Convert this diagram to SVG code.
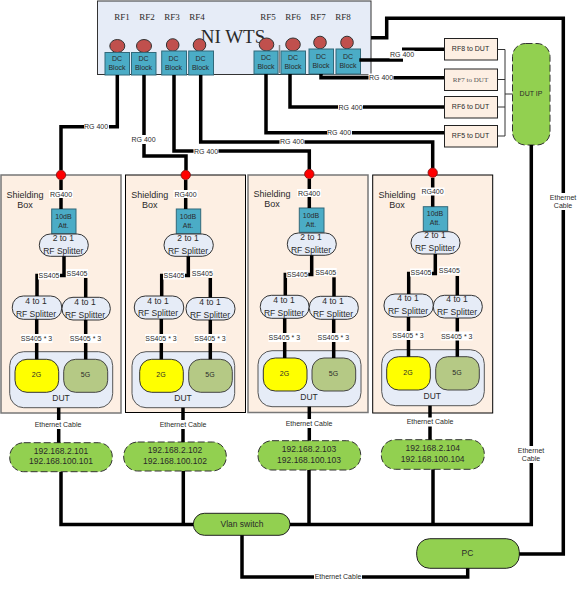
<svg xmlns="http://www.w3.org/2000/svg" width="579" height="590" viewBox="0 0 579 590">
<style>
text{font-family:"Liberation Sans",Arial,sans-serif;fill:#2a2a2a;text-anchor:middle}
.f7{font-size:7px}.f8{font-size:8.5px}.f9{font-size:9px}
.se{font-family:"Liberation Serif","Times New Roman",serif}
.panel{fill:#e6ecf7;stroke:#333;stroke-width:1}
.rf{fill:#c0504d;stroke:#333;stroke-width:1}
.dc{fill:#4bacc6;stroke:#31697a;stroke-width:1}
.rfd{fill:#fdefe3;stroke:#222;stroke-width:1}
.sb{fill:#fdefe3;stroke:#777;stroke-width:1.5}
.sbk{fill:#fdefe3;stroke:#000;stroke-width:1}
.red{fill:#f00;stroke:#7a1010;stroke-width:.8}
.spl{fill:#e6ecf7;stroke:#333;stroke-width:1}
.dut{fill:#e6ecf7;stroke:#555;stroke-width:1}
.y{fill:#ff0;stroke:#333;stroke-width:1}
.g5{fill:#b5c985;stroke:#444;stroke-width:1}
.ip{fill:#92d050;stroke:#333;stroke-width:1;stroke-dasharray:7 3}
.gr{fill:#92d050;stroke:#222;stroke-width:1}
#connectors path{fill:none;stroke:#000;stroke-width:3.5;stroke-linejoin:miter}
#connectors path.thin{stroke-width:1;stroke:#333}
#connectors rect{fill:#fff;stroke:none}
</style>

<g id="ni-wts">
<rect class="panel" x="97.5" y="1" width="273.5" height="73.5"/>
<path d="M323 75.5H369" stroke="#aaa" stroke-width="2" fill="none"/>
<path d="M279.5 45V73" stroke="#888" stroke-width="1.5" fill="none"/>
<text class="se" x="233" y="43" font-size="19">NI WTS</text>
<g font-size="9">
<text class="se" x="122" y="20">RF1</text><text class="se" x="147" y="20">RF2</text><text class="se" x="172" y="20">RF3</text><text class="se" x="197" y="20">RF4</text>
<text class="se" x="268" y="20">RF5</text><text class="se" x="293" y="20">RF6</text><text class="se" x="318" y="20">RF7</text><text class="se" x="343" y="20">RF8</text>
</g>
<ellipse class="rf" cx="117.3" cy="46" rx="7.5" ry="6.5"/><ellipse class="rf" cx="144" cy="46" rx="7.5" ry="6.5"/>
<circle class="rf" cx="172.7" cy="45" r="6.3"/><circle class="rf" cx="199.5" cy="45" r="6.3"/>
<ellipse class="rf" cx="266.5" cy="44.5" rx="7.3" ry="6.5"/><ellipse class="rf" cx="293" cy="44.5" rx="7.3" ry="6.5"/>
<circle class="rf" cx="320" cy="42.5" r="6.3"/><circle class="rf" cx="347" cy="42.5" r="6.3"/>
</g>
<g id="dc1"><rect class="dc" x="105" y="52.5" width="24.5" height="22.5"/><text class="f7" x="117" y="61">DC</text><text class="f7" x="117" y="70">Block</text></g>
<g id="dc2"><rect class="dc" x="131.5" y="52.5" width="24.5" height="22.5"/><text class="f7" x="143.5" y="61">DC</text><text class="f7" x="143.5" y="70">Block</text></g>
<g id="dc3"><rect class="dc" x="161.7" y="51" width="24.8" height="24"/><text class="f7" x="173.5" y="61">DC</text><text class="f7" x="173.5" y="70">Block</text></g>
<g id="dc4"><rect class="dc" x="188.7" y="51" width="24.8" height="24"/><text class="f7" x="200.5" y="61">DC</text><text class="f7" x="200.5" y="70">Block</text></g>
<g id="dc5"><rect class="dc" x="254" y="51" width="24" height="23"/><text class="f7" x="266" y="60">DC</text><text class="f7" x="266" y="69">Block</text></g>
<g id="dc6"><rect class="dc" x="281" y="51" width="24.5" height="23"/><text class="f7" x="293" y="60">DC</text><text class="f7" x="293" y="69">Block</text></g>
<g id="dc7"><rect class="dc" x="309" y="49" width="24.5" height="25"/><text class="f7" x="321" y="59">DC</text><text class="f7" x="321" y="68">Block</text></g>
<g id="dc8"><rect class="dc" x="336" y="49" width="24.5" height="25"/><text class="f7" x="348" y="59">DC</text><text class="f7" x="348" y="68">Block</text></g>

<g id="rf8-dut"><rect class="rfd" x="444.5" y="38.5" width="53" height="21.5"/><text class="f7" x="470.5" y="51">RF8 to DUT</text></g>
<g id="rf7-dut"><rect class="rfd" x="444.5" y="69" width="53" height="21.5"/><text class="f7 se" x="470.5" y="82" style="fill:#555">RF7 to DUT</text></g>
<g id="rf6-dut"><rect class="rfd" x="444.5" y="96.5" width="53" height="21.5"/><text class="f7" x="470.5" y="109">RF6 to DUT</text></g>
<g id="rf5-dut"><rect class="rfd" x="444.5" y="125.5" width="53" height="21.5"/><text class="f7" x="470.5" y="138">RF5 to DUT</text></g>
<g id="dut-ip"><rect class="ip" x="512.5" y="43.5" width="37.5" height="101.5" rx="13"/><text class="f7" x="531" y="96">DUT IP</text></g>

<g id="box1">
<rect class="sb" x="1" y="175" width="120" height="238"/>
<text class="f9" x="25" y="198">Shielding</text><text class="f9" x="25" y="208">Box</text>
<rect class="dc" x="51.7" y="209" width="24.3" height="24.7"/><text class="f7" x="63.5" y="219">10dB</text><text class="f7" x="63.5" y="228">Att.</text>
<rect class="spl" x="39.3" y="234" width="49" height="22.3" rx="11"/><text class="f8" x="63.3" y="241">2 to 1</text><text class="f8" x="63.3" y="254">RF Splitter</text>
<rect class="spl" x="12.3" y="296" width="49.4" height="23.3" rx="11"/><text class="f8" x="36" y="304">4 to 1</text><text class="f8" x="36" y="316.5">RF Splitter</text>
<rect class="spl" x="62" y="297.3" width="48.3" height="22.7" rx="11"/><text class="f8" x="85" y="305">4 to 1</text><text class="f8" x="85" y="318">RF Splitter</text>
<rect class="dut" x="9.7" y="351.7" width="103" height="56" rx="14"/>
<rect class="y" x="15" y="359.3" width="43.7" height="33" rx="12"/><text class="f7" x="36.5" y="377">2G</text>
<rect class="g5" x="63.7" y="359.3" width="44" height="33" rx="12"/><text class="f7" x="85.5" y="377">5G</text>
<text class="f8" x="61" y="401">DUT</text>
</g>
<g id="box2">
<rect class="sbk" x="125.5" y="175" width="120" height="237.5"/>
<text class="f9" x="149.7" y="198">Shielding</text><text class="f9" x="149.7" y="208">Box</text>
<rect class="dc" x="176.3" y="209" width="24.4" height="24.7"/><text class="f7" x="188" y="219">10dB</text><text class="f7" x="188" y="228">Att.</text>
<rect class="spl" x="164" y="234" width="49.3" height="22.3" rx="11"/><text class="f8" x="188" y="241">2 to 1</text><text class="f8" x="188" y="254">RF Splitter</text>
<rect class="spl" x="134.3" y="296" width="49.4" height="23" rx="11"/><text class="f8" x="158" y="303.5">4 to 1</text><text class="f8" x="158" y="316">RF Splitter</text>
<rect class="spl" x="186" y="297.5" width="49" height="22.5" rx="11"/><text class="f8" x="210" y="305">4 to 1</text><text class="f8" x="210" y="317.5">RF Splitter</text>
<rect class="dut" x="132" y="351.7" width="102.7" height="56" rx="14"/>
<rect class="y" x="139.7" y="359.3" width="43.6" height="33" rx="12"/><text class="f7" x="161" y="377">2G</text>
<rect class="g5" x="188.7" y="359.3" width="43.6" height="33" rx="12"/><text class="f7" x="210" y="377">5G</text>
<text class="f8" x="183" y="401">DUT</text>
</g>
<g id="box3">
<rect class="sb" x="248" y="175" width="120" height="237.5"/>
<text class="f9" x="272" y="197">Shielding</text><text class="f9" x="272" y="207">Box</text>
<rect class="dc" x="299.3" y="208" width="24.7" height="24.3"/><text class="f7" x="311" y="218">10dB</text><text class="f7" x="311" y="227">Att.</text>
<rect class="spl" x="287.3" y="233" width="49" height="22.3" rx="11"/><text class="f8" x="311" y="240">2 to 1</text><text class="f8" x="311" y="253">RF Splitter</text>
<rect class="spl" x="260.3" y="295.3" width="48.7" height="23" rx="11"/><text class="f8" x="284" y="303">4 to 1</text><text class="f8" x="284" y="315.5">RF Splitter</text>
<rect class="spl" x="309.3" y="296.3" width="49" height="23" rx="11"/><text class="f8" x="333" y="304">4 to 1</text><text class="f8" x="333" y="316.5">RF Splitter</text>
<rect class="dut" x="258" y="350.7" width="103" height="56" rx="14"/>
<rect class="y" x="263.3" y="358" width="43.7" height="33" rx="12"/><text class="f7" x="284.5" y="376">2G</text>
<rect class="g5" x="312" y="358" width="43.7" height="33" rx="12"/><text class="f7" x="333.5" y="376">5G</text>
<text class="f8" x="309" y="400">DUT</text>
</g>
<g id="box4">
<rect class="sbk" x="372.7" y="175" width="120" height="238"/>
<text class="f9" x="397" y="198">Shielding</text><text class="f9" x="397" y="208">Box</text>
<rect class="dc" x="423.3" y="206.7" width="24.4" height="24.3"/><text class="f7" x="435" y="216">10dB</text><text class="f7" x="435" y="225">Att.</text>
<rect class="spl" x="411" y="231.7" width="49" height="22.3" rx="11"/><text class="f8" x="435" y="238">2 to 1</text><text class="f8" x="435" y="251">RF Splitter</text>
<rect class="spl" x="384" y="294" width="49.3" height="23" rx="11"/><text class="f8" x="408" y="301">4 to 1</text><text class="f8" x="408" y="314">RF Splitter</text>
<rect class="spl" x="433.3" y="295.3" width="49" height="22.7" rx="11"/><text class="f8" x="457" y="302">4 to 1</text><text class="f8" x="457" y="315">RF Splitter</text>
<rect class="dut" x="381.7" y="349.7" width="102.6" height="56" rx="14"/>
<rect class="y" x="386.7" y="356.7" width="43.6" height="33.3" rx="12"/><text class="f7" x="408" y="375">2G</text>
<rect class="g5" x="435.7" y="356.7" width="43.6" height="33.3" rx="12"/><text class="f7" x="457" y="375">5G</text>
<text class="f8" x="432.3" y="399">DUT</text>
</g>

<g id="ip1"><rect class="ip" x="9.7" y="442.7" width="102.6" height="29" rx="14"/><text class="f8" x="61" y="453.7">192.168.2.101</text><text class="f8" x="61" y="464.3">192.168.100.101</text></g>
<g id="ip2"><rect class="ip" x="123.7" y="442" width="102.6" height="29" rx="14"/><text class="f8" x="175" y="453.3">192.168.2.102</text><text class="f8" x="175" y="463.8">192.168.100.102</text></g>
<g id="ip3"><rect class="ip" x="258" y="440.7" width="102.7" height="29.3" rx="14"/><text class="f8" x="309" y="452.3">192.168.2.103</text><text class="f8" x="309" y="463">192.168.100.103</text></g>
<g id="ip4"><rect class="ip" x="381.3" y="439.7" width="103" height="29.6" rx="14"/><text class="f8" x="432.7" y="451.3">192.168.2.104</text><text class="f8" x="432.7" y="462">192.168.100.104</text></g>
<g id="vlan"><rect class="gr" x="193.3" y="513.3" width="96.7" height="22" rx="11"/><text class="f8" x="242" y="526.5">Vlan switch</text></g>
<g id="pc"><rect class="gr" x="416.7" y="538.7" width="102.6" height="29.6" rx="13"/><text class="f8" x="467.5" y="555.5">PC</text></g>

<g id="connectors">
<path d="M117.3 75V126.7H61V170"/>
<path d="M144 75V156H186V170.5"/>
<path d="M174 75V151H309.3V169.5"/>
<path d="M200.7 75V142H432.7V168"/>
<path d="M266 74V132.7H444"/>
<path d="M290 74V107H444"/>
<path d="M321 74V77.7H444"/>
<path d="M359.3 60H403"/>
<path d="M402 49.3H444"/>
<path d="M371 37.7H386.7V18.3H563.3V554H519.3"/>
<path class="thin" d="M497.5 49.5H505V136H497.5M497.5 79.5H505M497.5 107H505M505 94H512.5"/>
<path d="M531.3 145V524.5H290"/>
<path d="M61 472V524.5H193.3"/>
<path d="M183.3 471V524.5"/>
<path d="M309 470V524.5"/>
<path d="M433 469.3V524.5"/>
<path d="M242 535.3V577H467.7V568.3"/>

<path d="M61 180V209"/><path d="M64 256.3V275.5H37V296"/><path d="M85.7 278V297.3"/><path d="M36.7 319.3V359.3"/><path d="M85.7 320V359.3"/><path d="M58.7 407.7V442.7"/>
<path d="M185.7 180V209"/><path d="M188.3 256.3V275.5H161.7V296"/><path d="M210.3 278V297.5"/><path d="M161.3 319V359.3"/><path d="M210.3 320V359.3"/><path d="M183 407.7V442"/>
<path d="M309.3 179V208"/><path d="M311.7 255.3V274.5H285.3V295.3"/><path d="M334 277.3V296.3"/><path d="M284.7 318.3V358"/><path d="M333.7 319.3V358"/><path d="M309.3 406.7V440.7"/>
<path d="M432.7 178V206.7"/><path d="M435.3 254V273.5H408.7V294"/><path d="M457.3 276V295.3"/><path d="M408.5 317V356.7"/><path d="M457.3 318V356.7"/><path d="M430 405.7V439.7"/>

<rect x="84" y="122" width="25" height="9"/><text class="f7" x="96" y="129">RG 400</text>
<rect x="131" y="135" width="25" height="9"/><text class="f7" x="143.5" y="141.5">RG 400</text>
<rect x="193.5" y="147" width="25" height="8"/><text class="f7" x="206" y="153.5">RG 400</text>
<rect x="279.5" y="137.5" width="25" height="8"/><text class="f7" x="292" y="144">RG 400</text>
<rect x="327" y="128.5" width="25" height="8"/><text class="f7" x="339" y="135">RG 400</text>
<rect x="338" y="103" width="25" height="8"/><text class="f7" x="350.5" y="109.5">RG 400</text>
<rect x="368.5" y="73.5" width="25" height="8"/><text class="f7" x="381" y="80">RG 400</text>
<rect x="389.5" y="50.5" width="25" height="8"/><text class="f7" x="402" y="56.5">RG 400</text>

<rect x="49" y="190" width="24" height="8"/><text class="f7" x="61" y="196.5">RG400</text>
<rect x="173.5" y="190" width="24" height="8"/><text class="f7" x="185.5" y="196.5">RG400</text>
<rect x="297" y="189" width="24" height="8"/><text class="f7" x="309" y="195.5">RG400</text>
<rect x="420.5" y="187.5" width="24" height="8"/><text class="f7" x="432.5" y="194">RG400</text>

<rect x="38" y="271.5" width="22" height="8"/><text class="f7" x="49" y="278">SS405</text>
<rect x="66" y="269" width="22" height="8"/><text class="f7" x="77" y="275.5">SS405</text>
<rect x="163" y="271.5" width="22" height="8"/><text class="f7" x="174" y="278">SS405</text>
<rect x="191.3" y="269" width="22" height="8"/><text class="f7" x="202.3" y="275.5">SS405</text>
<rect x="286.3" y="270" width="22" height="8"/><text class="f7" x="297.3" y="276.5">SS405</text>
<rect x="314.7" y="268" width="22" height="8"/><text class="f7" x="325.7" y="274.5">SS405</text>
<rect x="410" y="268.5" width="22" height="8"/><text class="f7" x="421" y="275">SS405</text>
<rect x="438.3" y="266.5" width="22" height="8"/><text class="f7" x="449.3" y="273">SS405</text>

<rect x="20.5" y="334" width="32" height="9"/><text class="f7" x="36.5" y="341">SS405 * 3</text>
<rect x="69.5" y="334" width="32" height="9"/><text class="f7" x="85.5" y="341">SS405 * 3</text>
<rect x="145" y="334" width="32" height="9"/><text class="f7" x="161" y="341">SS405 * 3</text>
<rect x="194" y="334" width="32" height="9"/><text class="f7" x="210" y="341">SS405 * 3</text>
<rect x="268.3" y="333" width="32" height="9"/><text class="f7" x="284.3" y="339.5">SS405 * 3</text>
<rect x="317.3" y="333" width="32" height="9"/><text class="f7" x="333.3" y="340">SS405 * 3</text>
<rect x="392" y="331" width="32" height="9"/><text class="f7" x="408" y="338">SS405 * 3</text>
<rect x="440.7" y="331.5" width="32" height="9"/><text class="f7" x="456.7" y="338.5">SS405 * 3</text>

<rect x="34" y="420" width="49" height="9"/><text class="f7" x="58" y="426.5">Ethernet Cable</text>
<rect x="159" y="420" width="49" height="9"/><text class="f7" x="183" y="426.5">Ethernet Cable</text>
<rect x="285" y="419" width="49" height="9"/><text class="f7" x="309" y="425.5">Ethernet Cable</text>
<rect x="406" y="417.5" width="49" height="9"/><text class="f7" x="430" y="424">Ethernet Cable</text>
<rect x="314" y="572" width="48" height="9"/><text class="f7" x="338" y="578.5">Ethernet Cable</text>
<rect x="517" y="446" width="28" height="17"/><text class="f7" x="531" y="452.5">Ethernet</text><text class="f7" x="531" y="460.5">Cable</text>
<rect x="549" y="193" width="28" height="17"/><text class="f7" x="563" y="199.5">Ethernet</text><text class="f7" x="563" y="208">Cable</text>
</g>

<g id="ports">
<circle class="red" cx="61" cy="175" r="4.7"/>
<circle class="red" cx="185.7" cy="175" r="4.7"/>
<circle class="red" cx="309.3" cy="174" r="4.7"/>
<circle class="red" cx="432.7" cy="172.7" r="4.7"/>
</g>
</svg>
